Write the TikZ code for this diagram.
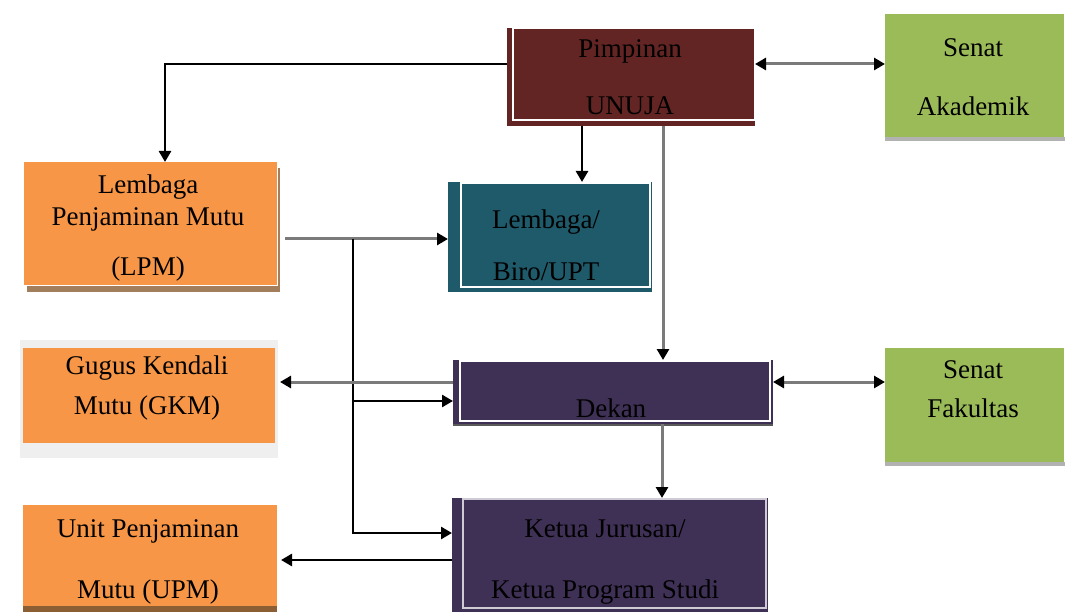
\documentclass[tikz,border=0pt]{standalone}
\usepackage{fontspec}
\setmainfont{Liberation Serif}
\usetikzlibrary{arrows.meta}
\definecolor{pimred}{HTML}{632523}
\definecolor{sgreen}{HTML}{9BBB59}
\definecolor{lorange}{HTML}{F79646}
\definecolor{lteal}{HTML}{1F5A6A}
\definecolor{dpurple}{HTML}{3F3055}
\definecolor{brshadow}{HTML}{8C5E34}
\definecolor{lgrey}{HTML}{EFEFEF}
\definecolor{lineg}{HTML}{7A7A7A}
\begin{document}
\begin{tikzpicture}[x=1pt,y=-1pt,
  box/.style={rectangle,inner sep=0pt,outer sep=0pt,draw=none},
  txt/.style={align=center,font=\fontsize{27}{32.4}\selectfont,inner sep=0pt,text=black},
  frame/.style={draw=white,line width=1.8pt},
  blk/.style={draw=black,line width=2.6pt},
  gry/.style={draw=lineg,line width=3pt},
  >={Triangle[length=11pt,width=12pt,color=black]}]
\path[use as bounding box] (0,0) rectangle (1065,612);

% shadows and backgrounds
\fill[lgrey] (20,340) rectangle (278,458);
\fill[brshadow,opacity=.8] (27,168) rectangle (280,292);
\fill[gray!60] (885,137) rectangle (1065,141);
\fill[gray!60] (885,462) rectangle (1065,466);
\fill[gray!70!black] (453,422) rectangle (773,426);

% boxes
\node[box,fill=pimred,minimum width=248pt,minimum height=98pt] (pim) at (631,77) {};
\node[box,fill=sgreen,minimum width=179pt,minimum height=123pt] (sa) at (974.5,75.5) {};
\node[box,fill=lorange,minimum width=254pt,minimum height=124pt] (lpm) at (150,224) {};
\node[box,fill=lteal,minimum width=204pt,minimum height=110pt] (lb) at (550,237) {};
\node[box,fill=lorange,minimum width=252pt,minimum height=95pt] (gkm) at (149,395.5) {};
\node[box,fill=dpurple,minimum width=320pt,minimum height=64pt] (dek) at (613,392) {};
\node[box,fill=sgreen,minimum width=179pt,minimum height=114pt] (sf) at (974.5,405) {};
\node[box,fill=lorange,minimum width=254pt,minimum height=107pt] (upm) at (150,558.5) {};
\node[box,fill=dpurple,minimum width=316pt,minimum height=118pt] (ket) at (610,557) {};
\fill[brshadow] (23,606) rectangle (277,612);

% white frames
\draw[frame] (513,28) rectangle (755,120);
\draw[frame] (461,183) rectangle (650,287);
\draw[frame] (460,361) rectangle (770,421);
\draw[white!75!dpurple,line width=1.5pt] (463,499) rectangle (766,608);
\draw[white,line width=1pt] (23,162) rectangle (277,286);

% texts
\node[txt] (pim-t) at (630,77) {Pimpinan\\[24pt]UNUJA};
\node[txt] (sa-t) at (973,77) {Senat\\[26pt]Akademik};
\node[txt] (lpm-t) at (148,228) {Lembaga\\Penjaminan Mutu\\[18pt](LPM)};
\node[txt] (lb-t) at (546,245) {Lembaga/\\[20pt]Biro/UPT};
\node[txt] (gkm-t) at (147,388) {Gugus Kendali\\[7pt]Mutu (GKM)};
\node[txt] (dek-t) at (611,408) {Dekan};
\node[txt] (sf-t) at (973,389) {Senat\\[7pt]Fakultas};
\node[txt] (upm-t) at (148,562) {Unit Penjaminan\\[29pt]Mutu (UPM)};
\node[txt] (ket-t) at (605,562) {Ketua Jurusan/\\[29pt]Ketua Program Studi};

% connectors
\draw[blk,->] ([yshift=13pt]pim.west) -| ([xshift=15pt]lpm.north);
\draw[gry,<->] ([yshift=13pt]pim.east) -- ([yshift=13pt]pim.east -| sa.west);
\draw[blk,->] (pim.south -| 582,0) -- (lb.north -| 582,0);
\draw[gry,->] (pim.south -| 663,0) -- (dek.north -| 663,0);
\draw[gry,->] ([xshift=8pt,yshift=-15pt]lpm.east) -- ([yshift=-15pt]lpm.east -| lb.west);
\coordinate (j1) at ([yshift=-15pt]lpm.east -| 353,0);
\draw[blk,->] (j1) |- ([yshift=24pt]ket.west);
\draw[blk,->] ([yshift=-9pt]dek.west -| j1) -- ([yshift=-9pt]dek.west);
\draw[gry,->] ([yshift=10pt]dek.west) -- ([xshift=5pt,yshift=10pt]dek.west -| gkm.east);
\draw[gry,<->] ([yshift=10pt]dek.east) -- ([yshift=10pt]dek.east -| sf.west);
\draw[gry,->] (dek.south -| 662,0) -- (ket.north -| 662,0);
\draw[blk,->] ([yshift=-3pt]ket.west) -- ([xshift=4pt,yshift=-3pt]ket.west -| upm.east);
\end{tikzpicture}
\end{document}
